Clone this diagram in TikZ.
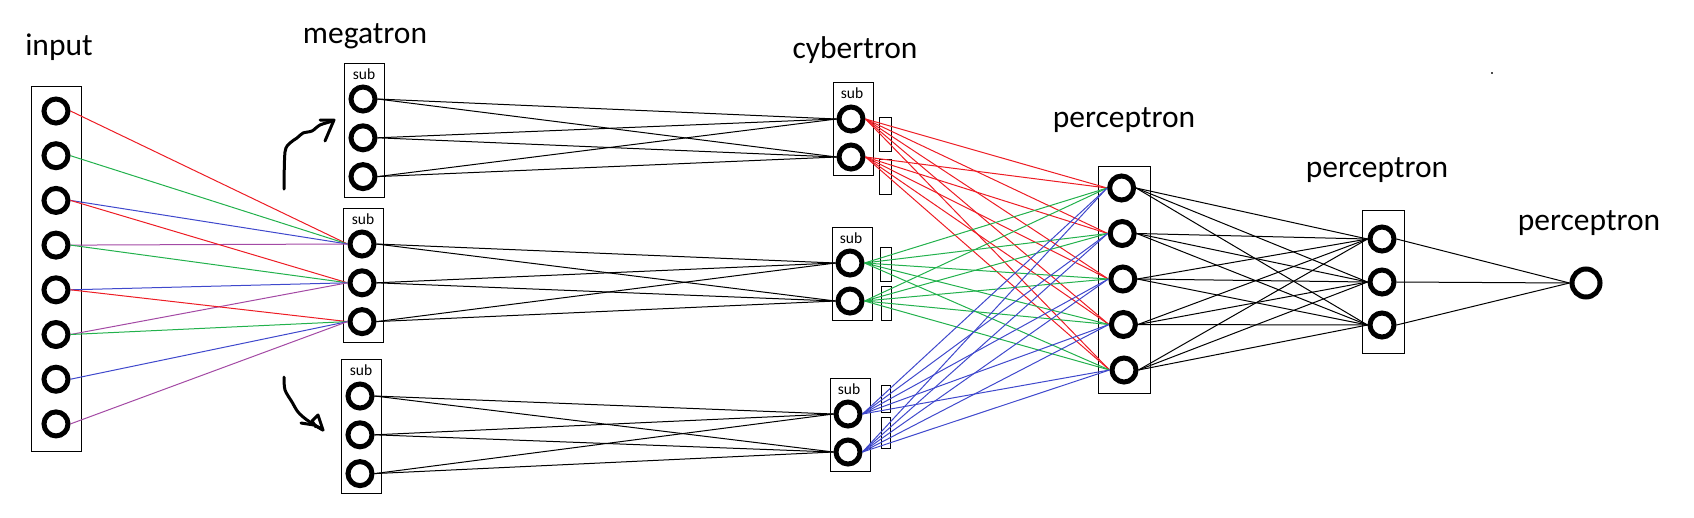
\documentclass[tikz,border=0pt]{standalone}
\usepackage{fontspec}
\setmainfont{Carlito}
\definecolor{pred}{RGB}{237,28,36}
\definecolor{pgreen}{RGB}{34,177,76}
\definecolor{pblue}{RGB}{63,72,204}
\definecolor{ppurple}{RGB}{163,73,164}
\tikzset{
  unit/.style={circle, draw, line width=5pt, minimum size=24pt, inner sep=0pt},
  layerbox/.style={draw, line width=1pt},
  title/.style={font=\fontsize{31.5}{36}\selectfont, anchor=base},
  sublabel/.style={font=\fontsize{15.5}{18}\selectfont, anchor=base},
  link/.style={line width=1pt},
  scribble/.style={line width=3pt, line cap=round, line join=round},
}

\begin{document}
\begin{tikzpicture}[x=1pt, y=-1pt]
  \useasboundingbox (0,0) rectangle (1694,517);
  % titles
  \node[title] (tin) at (59,55) {input};
  \node[title] (tmeg) at (365,43) {megatron};
  \node[title] (tcyb) at (855,58) {cybertron};
  \node[title] (tpa) at (1124,127) {perceptron};
  \node[title] (tpb) at (1377,177) {perceptron};
  \node[title] (tout) at (1589,230) {perceptron};
  % input layer
  \draw[layerbox] (31,86) rectangle (81,451);
  \foreach \i in {1,...,8}
    \node[unit] (in\i) at (56,{111+44.7*(\i-1)}) {};
  % megatron: three sub blocks
  \foreach \g/\x/\top/\y in {A/363/63/99, B/362/208/244, C/360/359/396} {
    \draw[layerbox] (\x-19,\top) rectangle (\x+21,\top+134);
    \node[sublabel] at (\x+1,\top+16) {sub};
    \foreach \i in {1,2,3}
      \node[unit] (meg\g\i) at (\x,{\y+38.8*(\i-1)}) {};
  }
  % cybertron: three sub blocks with side bars
  \foreach \g/\x/\top/\y in {A/851/82/119, B/850/227/263, C/848/378/414} {
    \draw[layerbox] (\x-18,\top) rectangle (\x+22,\top+93);
    \node[sublabel] at (\x+1,\top+16) {sub};
    \foreach \i in {1,2}
      \node[unit] (cyb\g\i) at (\x,{\y+38*(\i-1)}) {};
  }
  \draw[layerbox] (879,117) rectangle (891,151);
  \draw[layerbox] (879,159) rectangle (891,194);
  \draw[layerbox] (880,247) rectangle (891,281);
  \draw[layerbox] (881,286) rectangle (891,320);
  \draw[layerbox] (881,385) rectangle (890,412);
  \draw[layerbox] (881,417) rectangle (890,448);
  % perceptron layers
  \draw[layerbox] (1098,166) rectangle (1150,393);
  \foreach \i in {1,...,5}
    \node[unit] (pA\i) at ({1121+0.6*\i},{188+45.5*(\i-1)}) {};
  \draw[layerbox] (1362,210) rectangle (1404,353);
  \foreach \i in {1,2,3}
    \node[unit] (pB\i) at (1382,{239+43*(\i-1)}) {};
  \node[unit, minimum size=28pt] (out) at (1586,283) {};
  % input -> middle megatron block
  \foreach \j in {1,2,3}
    \foreach \k/\c in {0/pred, 1/pgreen, 2/pblue, 3/ppurple} {
      \pgfmathtruncatemacro{\i}{2*\j-1+\k}
      \draw[link, \c] (in\i.east) -- (megB\j.west);
    }
  % megatron -> cybertron, block by block
  \foreach \g in {A,B,C}
    \foreach \i in {1,2,3}
      \foreach \k in {1,2}
        \draw[link] (meg\g\i.east) -- (cyb\g\k.west);
  % cybertron -> first perceptron
  \foreach \g/\c in {A/pred, B/pgreen, C/pblue}
    \foreach \k in {1,2}
      \foreach \m in {1,...,5}
        \draw[link, \c] (cyb\g\k.east) -- (pA\m.west);
  % perceptron -> perceptron -> output
  \foreach \i in {1,...,5}
    \foreach \m in {1,2,3}
      \draw[link] (pA\i.east) -- (pB\m.west);
  \foreach \m in {1,2,3}
    \draw[link] (pB\m.east) -- (out.west);
  % hand drawn arrows
  \draw[scribble] plot[smooth, tension=0.5] coordinates {(284,189) (285,152) (290,143) (297,138) (303,133) (312,131) (320,125) (333,121)};
  \draw[scribble] (320,120) -- (334,120) -- (325,141);
  \draw[scribble] plot[smooth, tension=0.5] coordinates {(284,377) (285,390) (292,402) (298,412) (307,420) (323,430)};
  \draw[scribble] (301,423) -- (314,425) -- (323,430) -- (318,415) -- (312,421) -- (316,427);
  % stray dot
  \fill[black!70] (1491,72) rectangle (1493,74);
\end{tikzpicture}
\end{document}
